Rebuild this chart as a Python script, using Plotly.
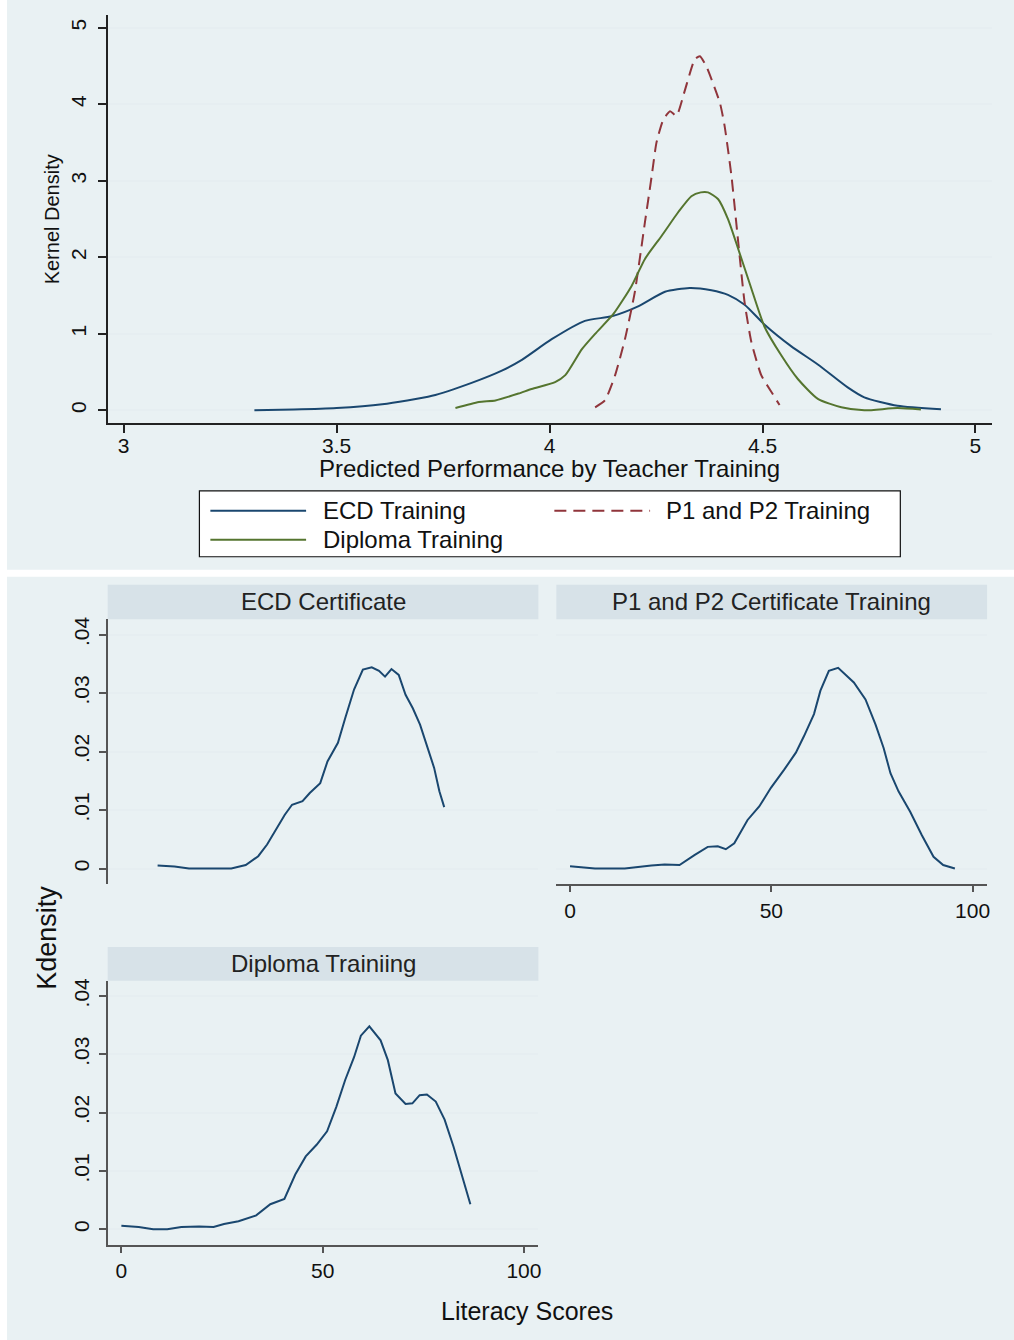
import plotly.graph_objects as go

# ---------------- data ----------------
series_names = ["ECD Training", "P1 and P2 Training", "Diploma Training"]

ecd_x = [3.307, 3.40, 3.50, 3.607, 3.724, 3.817, 3.888, 3.935, 4.005, 4.083, 4.146, 4.208,
         4.271, 4.329, 4.38, 4.419, 4.458, 4.505, 4.567, 4.63, 4.70, 4.739, 4.817, 4.919]
ecd_y = [0.0, 0.01, 0.03, 0.08, 0.19, 0.36, 0.52, 0.66, 0.93, 1.17, 1.23, 1.36,
         1.55, 1.60, 1.57, 1.51, 1.38, 1.12, 0.84, 0.60, 0.30, 0.17, 0.06, 0.013]

p12_x = [4.107, 4.130, 4.154, 4.177, 4.200, 4.224, 4.240, 4.251, 4.267, 4.283, 4.298, 4.317,
         4.341, 4.353, 4.368, 4.400, 4.411, 4.427, 4.443, 4.458, 4.474, 4.497, 4.521, 4.540]
p12_y = [0.04, 0.13, 0.46, 0.93, 1.54, 2.46, 3.07, 3.50, 3.80, 3.91, 3.85, 4.17,
         4.59, 4.63, 4.50, 4.02, 3.72, 3.07, 2.20, 1.41, 0.89, 0.46, 0.24, 0.07]

dip_x = [3.779, 3.834, 3.873, 3.927, 3.958, 4.013, 4.037, 4.076, 4.107, 4.150, 4.193, 4.224,
         4.263, 4.302, 4.333, 4.355, 4.372, 4.396, 4.419, 4.443, 4.474, 4.505, 4.544, 4.583,
         4.630, 4.685, 4.739, 4.817, 4.872]
dip_y = [0.03, 0.11, 0.13, 0.22, 0.28, 0.37, 0.46, 0.80, 1.00, 1.26, 1.63, 1.98,
         2.28, 2.59, 2.80, 2.85, 2.85, 2.76, 2.50, 2.11, 1.59, 1.09, 0.72, 0.41,
         0.15, 0.04, 0.0, 0.03, 0.01]

top_xticks = [3, 3.5, 4, 4.5, 5]
top_xticktext = ["3", "3.5", "4", "4.5", "5"]
top_yticks = [0, 1, 2, 3, 4, 5]

panel_titles = ["ECD Certificate", "P1 and P2 Certificate Training", "Diploma Trainiing"]

ecdc_x = [9.0, 13.2, 16.8, 27.3, 30.9, 34.0, 36.2, 38.4, 40.6, 42.4, 45.0, 46.8, 49.4, 51.2,
          53.8, 55.6, 57.8, 60.0, 62.2, 64.0, 65.5, 67.1, 68.9, 70.6, 72.4, 74.2, 75.9,
          77.7, 79.0, 80.2]
ecdc_y = [0.0005, 0.00034, 0.0, 0.0, 0.0006, 0.0021, 0.0041, 0.0067, 0.0092, 0.0109, 0.0115,
          0.0129, 0.0146, 0.0183, 0.0215, 0.0257, 0.0306, 0.0340, 0.0344, 0.0338, 0.0328,
          0.0341, 0.0331, 0.0297, 0.0274, 0.0246, 0.0209, 0.0172, 0.0132, 0.0105]

p12c_x = [0, 2.9, 6.2, 13.6, 16.9, 20.2, 23.5, 27.2, 30.9, 34.2, 36.7, 38.7, 40.8, 44.1, 47.0,
          49.9, 53.2, 56.1, 58.1, 60.6, 62.2, 64.3, 66.6, 68.0, 70.5, 73.4, 75.9, 77.9,
          79.6, 81.6, 84.5, 87.4, 90.3, 92.7, 95.6]
p12c_y = [0.0004, 0.0002, 0.0, 0.0, 0.0003, 0.0005, 0.0007, 0.0006, 0.0023, 0.0037, 0.0038,
          0.0033, 0.0043, 0.0083, 0.0106, 0.0138, 0.0169, 0.0198, 0.0226, 0.0264, 0.0304,
          0.0338, 0.0343, 0.0334, 0.0318, 0.0289, 0.0246, 0.0206, 0.0163, 0.0132, 0.0097,
          0.0057, 0.0020, 0.0006, 0.0]

dipc_x = [0, 4.3, 7.9, 11.4, 14.9, 19.3, 22.9, 25.5, 29.1, 33.5, 37.0, 40.5, 43.2, 45.8, 48.5,
          51.1, 53.4, 55.6, 57.8, 59.5, 61.6, 64.4, 66.2, 68.1, 70.6, 72.3, 74.1, 75.9,
          78.1, 80.3, 82.5, 84.7, 86.7]
dipc_y = [0.0006, 0.0004, 0.0, 0.0, 0.0004, 0.0005, 0.0004, 0.0009, 0.0014, 0.0024, 0.0043,
          0.0052, 0.0094, 0.0125, 0.0145, 0.0168, 0.0210, 0.0256, 0.0295, 0.0332, 0.0348,
          0.0324, 0.0290, 0.0233, 0.0215, 0.0216, 0.0230, 0.0231, 0.0219, 0.0188, 0.0142,
          0.0091, 0.0043]

bot_xticks = [0, 50, 100]
bot_yticks = [0, 0.01, 0.02, 0.03, 0.04]
bot_yticktext = ["0", ".01", ".02", ".03", ".04"]

# ---------------- style ----------------
W, H = 1014, 1340
NAVY, MAROON, GREEN = "#1a476f", "#90353b", "#55752f"
BG = "#e9f1f3"
STRIP = "#d7e2e8"
GRID = "#e6eef1"
FONT = "Liberation Sans, Arial, sans-serif"


def px(v):
    return v / W


def py(v):
    return 1 - v / H


fig = go.Figure()

# top chart traces
fig.add_trace(go.Scatter(x=ecd_x, y=ecd_y, mode="lines", name=series_names[0],
                         line=dict(color=NAVY, width=2, shape="spline", smoothing=0.6),
                         xaxis="x", yaxis="y", showlegend=False))
fig.add_trace(go.Scatter(x=p12_x, y=p12_y, mode="lines", name=series_names[1],
                         line=dict(color=MAROON, width=2, dash="12px,7px", shape="spline", smoothing=0.5),
                         xaxis="x", yaxis="y", showlegend=False))
fig.add_trace(go.Scatter(x=dip_x, y=dip_y, mode="lines", name=series_names[2],
                         line=dict(color=GREEN, width=2, shape="spline", smoothing=0.6),
                         xaxis="x", yaxis="y", showlegend=False))

# bottom panels
fig.add_trace(go.Scatter(x=ecdc_x, y=ecdc_y, mode="lines", name=panel_titles[0],
                         line=dict(color=NAVY, width=2), xaxis="x2", yaxis="y2", showlegend=False))
fig.add_trace(go.Scatter(x=p12c_x, y=p12c_y, mode="lines", name=panel_titles[1],
                         line=dict(color=NAVY, width=2), xaxis="x3", yaxis="y3", showlegend=False))
fig.add_trace(go.Scatter(x=dipc_x, y=dipc_y, mode="lines", name=panel_titles[2],
                         line=dict(color=NAVY, width=2), xaxis="x4", yaxis="y4", showlegend=False))

tickfont_top = dict(family=FONT, size=21, color="#111")
tickfont_bot = dict(family=FONT, size=21, color="#111")

BOT_XR = [-3.4, 103.6]
BOT_YR = [-0.0026, 0.0426]

layout = dict(
    width=W, height=H,
    margin=dict(l=0, r=0, t=0, b=0),
    paper_bgcolor="white", plot_bgcolor="white",
    font=dict(family=FONT, color="#111"),
    showlegend=False,
    xaxis=dict(domain=[px(108), px(995)], anchor="y", range=[2.9625, 5.039],
               tickvals=top_xticks, ticktext=top_xticktext, ticks="outside", ticklen=8,
               tickwidth=1.5, tickcolor="#222", showline=True, linecolor="#222", linewidth=1.5,
               showgrid=False, zeroline=False, tickfont=tickfont_top, ticklabelstandoff=-5),
    yaxis=dict(domain=[py(421), py(11.7)], anchor="x", range=[-0.166, 5.173],
               tickvals=top_yticks, ticks="outside", ticklen=8, tickwidth=1.5, tickcolor="#222",
               showline=True, linecolor="#222", linewidth=1.5, showgrid=True, gridcolor=GRID,
               gridwidth=2, zeroline=False, tickangle=-90, tickfont=tickfont_top,
               ticklabelstandoff=4),
    # panel 1
    xaxis2=dict(domain=[px(108), px(540)], anchor="y2", range=BOT_XR, showline=False,
                showticklabels=False, ticks="", showgrid=False, zeroline=False),
    yaxis2=dict(domain=[py(882.7), py(617.7)], anchor="x2", range=BOT_YR, tickvals=bot_yticks,
                ticktext=bot_yticktext, ticks="outside", ticklen=7, tickwidth=1.5, tickcolor="#555",
                showline=True, linecolor="#555", linewidth=1.5, showgrid=True, gridcolor=GRID,
                gridwidth=2, zeroline=False, tickangle=-90, tickfont=tickfont_bot,
                ticklabelstandoff=2),
    # panel 2
    xaxis3=dict(domain=[px(558), px(990)], anchor="y3", range=BOT_XR, tickvals=bot_xticks,
                ticks="outside", ticklen=7, tickwidth=1.5, tickcolor="#555", showline=True,
                linecolor="#555", linewidth=1.5, showgrid=False, zeroline=False,
                tickfont=tickfont_bot),
    yaxis3=dict(domain=[py(882.7), py(617.7)], anchor="x3", range=BOT_YR, tickvals=bot_yticks,
                showticklabels=False, ticks="", showline=False, showgrid=True, gridcolor=GRID,
                gridwidth=2, zeroline=False),
    # panel 3
    xaxis4=dict(domain=[px(108), px(540)], anchor="y4", range=BOT_XR, tickvals=bot_xticks,
                ticks="outside", ticklen=7, tickwidth=1.5, tickcolor="#555", showline=True,
                linecolor="#555", linewidth=1.5, showgrid=False, zeroline=False,
                tickfont=tickfont_bot),
    yaxis4=dict(domain=[py(1244.3), py(980)], anchor="x4", range=BOT_YR, tickvals=bot_yticks,
                ticktext=bot_yticktext, ticks="outside", ticklen=7, tickwidth=1.5, tickcolor="#555",
                showline=True, linecolor="#555", linewidth=1.5, showgrid=True, gridcolor=GRID,
                gridwidth=2, zeroline=False, tickangle=-90, tickfont=tickfont_bot,
                ticklabelstandoff=2),
)
fig.update_layout(**layout)

shapes = []
# backgrounds
shapes.append(dict(type="rect", xref="paper", yref="paper", x0=px(7), x1=1.01, y0=py(568), y1=1.01,
                   fillcolor=BG, line=dict(width=0), layer="below"))
shapes.append(dict(type="rect", xref="paper", yref="paper", x0=px(7), x1=1.01, y0=-0.01, y1=py(575),
                   fillcolor=BG, line=dict(width=0), layer="below"))
# strips
strip_boxes = [(108, 540, 583, 617.7), (558, 990, 583, 617.7), (108, 540, 946, 980)]
for (a, b, c, d) in strip_boxes:
    shapes.append(dict(type="rect", xref="paper", yref="paper", x0=px(a), x1=px(b),
                       y0=py(d), y1=py(c), fillcolor=STRIP, line=dict(width=0), layer="below"))
# legend box
shapes.append(dict(type="rect", xref="paper", yref="paper", x0=px(200), x1=px(903),
                   y0=py(555), y1=py(489), fillcolor="white", line=dict(color="#111", width=1.2),
                   layer="below"))
# legend samples
leg_items = [
    (series_names[0], NAVY, "solid", 211, 307, 509, 322),
    (series_names[1], MAROON, "12px,7px", 556, 652, 509, 666),
    (series_names[2], GREEN, "solid", 211, 307, 538, 322),
]
for (nm, col, dash, xa, xb, yy, tx) in leg_items:
    shapes.append(dict(type="line", xref="paper", yref="paper", x0=px(xa), x1=px(xb),
                       y0=py(yy), y1=py(yy), line=dict(color=col, width=2, dash=dash)))
fig.update_layout(shapes=shapes)

ann = []
for (nm, col, dash, xa, xb, yy, tx) in leg_items:
    ann.append(dict(text=nm, xref="paper", yref="paper", x=px(tx), y=py(yy), xanchor="left",
                    yanchor="middle", showarrow=False, font=dict(family=FONT, size=24, color="#111")))
# axis titles
ann.append(dict(text="Predicted Performance by Teacher Training", xref="paper", yref="paper",
                x=px(551), y=py(467), xanchor="center", yanchor="middle", showarrow=False,
                font=dict(family=FONT, size=24, color="#111")))
ann.append(dict(text="Kernel Density", xref="paper", yref="paper", x=px(52), y=py(217),
                xanchor="center", yanchor="middle", textangle=-90, showarrow=False,
                font=dict(family=FONT, size=20, color="#111")))
# panel titles
title_pos = [(324, 600), (774, 600), (324, 963)]
for t, (a, b) in zip(panel_titles, title_pos):
    ann.append(dict(text=t, xref="paper", yref="paper", x=px(a), y=py(b), xanchor="center",
                    yanchor="middle", showarrow=False, font=dict(family=FONT, size=24, color="#222")))
ann.append(dict(text="Kdensity", xref="paper", yref="paper", x=px(47), y=py(937),
                xanchor="center", yanchor="middle", textangle=-90, showarrow=False,
                font=dict(family=FONT, size=27, color="#111")))
ann.append(dict(text="Literacy Scores", xref="paper", yref="paper", x=px(529), y=py(1311),
                xanchor="center", yanchor="middle", showarrow=False,
                font=dict(family=FONT, size=25, color="#111")))
fig.update_layout(annotations=ann)

fig.write_html("out.html")
